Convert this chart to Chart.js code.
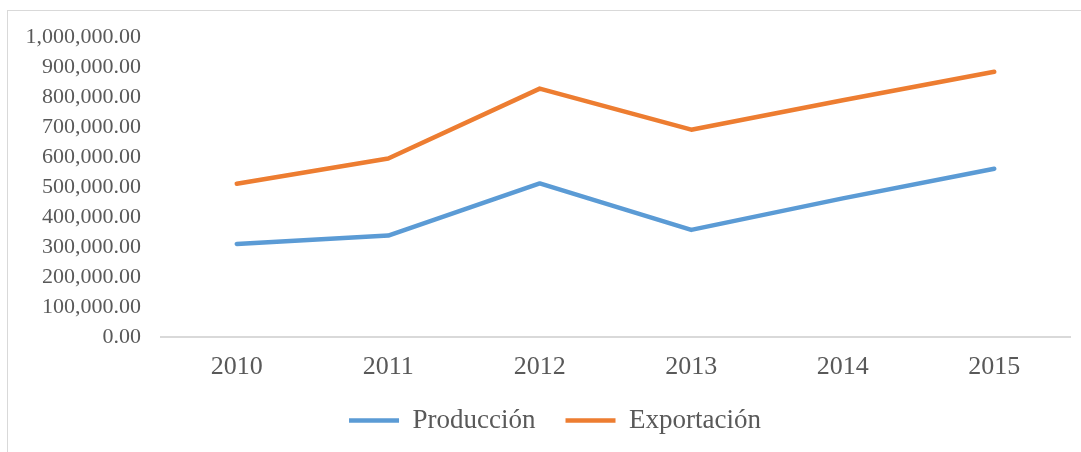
<!DOCTYPE html>
<html>
<head>
<meta charset="utf-8">
<script src="https://cdn.jsdelivr.net/npm/chart.js@4"></script>
<style>
    html, body { margin: 0; padding: 0; background: #fff; }
    body { width: 1081px; height: 452px; position: relative; overflow: hidden; }
    #marco { position: absolute; left: 7px; top: 10px; width: 1090px; height: 460px; border: 1px solid #d9d9d9; }
    #contenedor { position: absolute; left: 0; top: 0; width: 1081px; height: 452px; }
</style>
</head>
<body>
<div id="marco"></div>
<div id="contenedor"><canvas id="grafico"></canvas></div>
<script>
const anios = ['2010', '2011', '2012', '2013', '2014', '2015'];
const produccion = [310000, 338000, 512000, 357000, 462000, 561000];
const exportacion = [511000, 595000, 828000, 691000, 789000, 884000];
const ejeMin = 0;
const ejeMax = 1000000;
const ejePaso = 100000;

const ctx = document.getElementById('grafico');
const gris = '#595959';
const fuente = "'Liberation Serif', 'Times New Roman', serif";

const data = {
    labels: anios,
    datasets: [{
        label: 'Producción',
        data: produccion,
        borderColor: '#5B9BD5',
        backgroundColor: '#5B9BD5',
        borderWidth: 4.5
    }, {
        label: 'Exportación',
        data: exportacion,
        borderColor: '#ED7D31',
        backgroundColor: '#ED7D31',
        borderWidth: 4.5
    }]
};

// mueve la leyenda un poco a la derecha, como en el original
const moverLeyenda = {
    id: 'moverLeyenda',
    afterLayout(chart) {
        chart.legend.left += 20;
        chart.legend.right += 20;
    }
};

const options = {
    responsive: true,
    maintainAspectRatio: false,
    animation: false,
    layout: {
        padding: { top: 37, right: 11, bottom: 8, left: 0 }
    },
    plugins: {
        legend: {
            position: 'bottom',
            labels: {
                usePointStyle: true,
                pointStyle: 'line',
                pointStyleWidth: 50,
                color: gris,
                padding: 30,
                font: { family: fuente, size: 27 }
            }
        },
        tooltip: { enabled: false }
    },
    scales: {
        x: {
            offset: true,
            grid: { display: false, drawTicks: false },
            border: { display: true, color: '#d9d9d9', width: 2 },
            ticks: {
                color: gris,
                padding: 15,
                font: { family: fuente, size: 26 }
            },
            afterFit: (escala) => { escala.height = 40; }
        },
        y: {
            min: ejeMin,
            max: ejeMax,
            grid: { display: false, drawTicks: false },
            border: { display: false },
            ticks: {
                stepSize: ejePaso,
                color: gris,
                padding: 20,
                font: { family: fuente, size: 22 },
                callback: (v) => Number(v).toLocaleString('en-US', { minimumFractionDigits: 2, maximumFractionDigits: 2 })
            },
            afterFit: (escala) => { escala.width = 161; }
        }
    },
    elements: {
        line: {
            tension: 0,
            fill: false,
            borderJoinStyle: 'round',
            borderCapStyle: 'round'
        },
        point: {
            radius: 0,
            hoverRadius: 0
        }
    }
};

const miGrafico = new Chart(ctx, {
    type: 'line',
    data: data,
    options: options,
    plugins: [moverLeyenda]
});
</script>
</body>
</html>
